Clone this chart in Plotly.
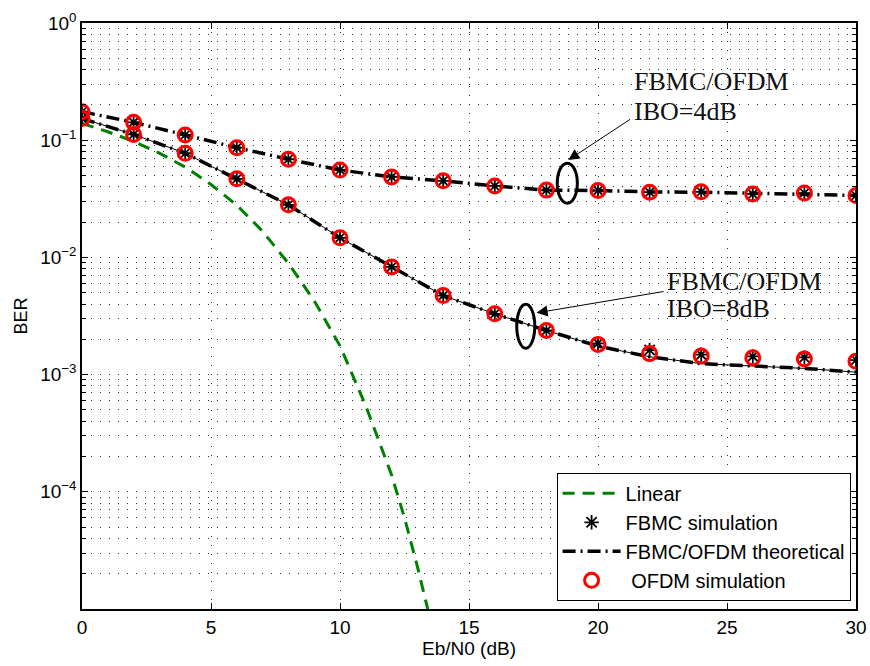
import plotly.graph_objects as go

# ---- data ----
snr = [0, 2, 4, 6, 8, 10, 12, 14, 16, 18, 20, 22, 24, 26, 28, 30]

linear_x = [0, 1, 2, 3, 4, 5, 6, 7, 8, 9, 10, 11, 12, 12.5, 13, 13.4]
linear_ber = [0.139, 0.118, 0.0977, 0.0776, 0.059, 0.0419, 0.0279, 0.0167,
              0.0089, 0.00427, 0.00176, 5.4e-4, 1.39e-4, 6.0e-5, 2.3e-5, 1.0e-5]

ibo4_theory = [0.175, 0.142, 0.111, 0.0863, 0.0688, 0.0557, 0.0486, 0.045,
               0.0407, 0.0375, 0.0372, 0.0362, 0.036, 0.0352, 0.035, 0.0338]
ibo4_ofdm = [0.175, 0.142, 0.111, 0.0863, 0.0688, 0.0557, 0.0486, 0.045,
             0.0407, 0.0375, 0.0372, 0.036, 0.0363, 0.0348, 0.0354, 0.0337]
ibo4_fbmc = [0.175, 0.142, 0.111, 0.0863, 0.0688, 0.0557, 0.0486, 0.045,
             0.0407, 0.0375, 0.0372, 0.036, 0.0363, 0.0348, 0.0354, 0.0337]

ibo8_theory = [0.153, 0.112, 0.0774, 0.0468, 0.0281, 0.0147, 0.0083, 0.00472,
               0.0033, 0.00238, 0.00175, 0.00142, 0.00124, 0.00118, 0.00113, 0.00105]
ibo8_ofdm = [0.153, 0.112, 0.0774, 0.0468, 0.0281, 0.0147, 0.0083, 0.00472,
             0.0033, 0.00238, 0.00181, 0.00151, 0.00144, 0.00139, 0.00136, 0.0013]
ibo8_fbmc = [0.153, 0.112, 0.0774, 0.0468, 0.0281, 0.0147, 0.0083, 0.00472,
             0.0033, 0.00238, 0.00185, 0.00162, 0.00148, 0.00143, 0.0014, 0.00133]

x_ticks = [0, 5, 10, 15, 20, 25, 30]
y_ticks = [1e-4, 1e-3, 1e-2, 1e-1, 1]
y_ticktext = ["10<sup>\u22124</sup>", "10<sup>\u22123</sup>", "10<sup>\u22122</sup>",
              "10<sup>\u22121</sup>", "10<sup>0</sup>"]

GREEN = "#008000"
RED = "#ff0000"
DASHDOT = "13px,5px,2px,5px"

fig = go.Figure()

fig.add_trace(go.Scatter(x=linear_x, y=linear_ber, mode="lines", name="Linear",
                         line=dict(color=GREEN, width=3, dash="12px,8px")))

# thin solid line along the IBO=8dB curve
fig.add_trace(go.Scatter(x=snr, y=ibo8_theory, mode="lines", showlegend=False,
                         line=dict(color="black", width=1)))

star = dict(symbol="asterisk-open", size=12, color="black",
            line=dict(color="black", width=1.8))
fig.add_trace(go.Scatter(x=snr, y=ibo4_fbmc, mode="markers", name="FBMC simulation",
                         legendgroup="fbmc", marker=star))
fig.add_trace(go.Scatter(x=snr, y=ibo8_fbmc, mode="markers", showlegend=False,
                         legendgroup="fbmc", marker=star))

fig.add_trace(go.Scatter(x=snr, y=ibo4_theory, mode="lines", name="FBMC/OFDM theoretical",
                         legendgroup="th",
                         line=dict(color="black", width=3.5, dash=DASHDOT)))
fig.add_trace(go.Scatter(x=snr, y=ibo8_theory, mode="lines", showlegend=False,
                         legendgroup="th",
                         line=dict(color="black", width=3.5, dash=DASHDOT)))

circ = dict(symbol="circle-open", size=14, color=RED, line=dict(color=RED, width=3))
fig.add_trace(go.Scatter(x=snr, y=ibo4_ofdm, mode="markers", name="\u00a0OFDM simulation",
                         legendgroup="ofdm", marker=circ))
fig.add_trace(go.Scatter(x=snr, y=ibo8_ofdm, mode="markers", showlegend=False,
                         legendgroup="ofdm", marker=circ))

# ellipses (data coordinates)
fig.add_shape(type="circle", xref="x", yref="y", x0=18.42, x1=19.2, y0=0.029, y1=0.0637,
              line=dict(color="black", width=3))
fig.add_shape(type="circle", xref="x", yref="y", x0=16.85, x1=17.55, y0=0.00168, y1=0.00398,
              line=dict(color="black", width=3))

# arrows (annotation coordinates on log axis are log10)
fig.add_annotation(x=18.85, y=-1.169, ax=21.3, ay=-0.814, axref="x", ayref="y",
                   xref="x", yref="y", text="", showarrow=True, arrowhead=2,
                   arrowsize=2.2, arrowwidth=1, arrowcolor="black")
fig.add_annotation(x=17.62, y=-2.473, ax=22.6, ay=-2.289, axref="x", ayref="y",
                   xref="x", yref="y", text="", showarrow=True, arrowhead=2,
                   arrowsize=2.2, arrowwidth=1, arrowcolor="black")

serif = dict(family="Liberation Serif, Times New Roman, serif", size=26, color="#111")
labels = [(21.3, -0.502, "FBMC/OFDM"), (21.3, -0.757, "IBO=4dB"),
          (22.6, -2.204, "FBMC/OFDM"), (22.6, -2.439, "IBO=8dB")]
for lx, ly, lt in labels:
    fig.add_annotation(x=lx, y=ly, xref="x", yref="y", text=lt, showarrow=False,
                       xanchor="left", yanchor="middle", align="left", font=serif)

grid_dash = "1px,8px"
fig.update_layout(
    width=870, height=666,
    margin=dict(l=82, r=14, t=23, b=57, autoexpand=False),
    paper_bgcolor="white", plot_bgcolor="white",
    font=dict(family="Liberation Sans, Arial, sans-serif", size=19, color="black"),
    legend=dict(x=0.993, y=0.014, xanchor="right", yanchor="bottom",
                bgcolor="white", bordercolor="black", borderwidth=1,
                font=dict(size=20), itemwidth=58, tracegroupgap=0),
    xaxis=dict(range=[0, 30], tickvals=x_ticks, showline=True, linecolor="black",
               linewidth=1.5, mirror="ticks", ticks="inside", ticklen=6,
               tickcolor="black", showgrid=True, gridcolor="#333", gridwidth=1,
               griddash=grid_dash, zeroline=False, tickfont=dict(size=19),
               automargin=False,
               title=dict(text="Eb/N0 (dB)", font=dict(size=19), standoff=4)),
    yaxis=dict(type="log", range=[-5, 0], tickvals=y_ticks, ticktext=y_ticktext,
               showline=True, linecolor="black", linewidth=1.5, mirror="ticks",
               ticks="inside", ticklen=6, tickcolor="black", showgrid=True,
               gridcolor="#333", gridwidth=1, griddash=grid_dash, zeroline=False,
               tickfont=dict(size=19), automargin=False,
               minor=dict(tickmode="array",
                          tickvals=[k * 10.0 ** e for e in range(-5, 0) for k in range(2, 10)],
                          ticks="inside", ticklen=4, tickcolor="black", showgrid=True,
                          gridcolor="#333", gridwidth=1, griddash=grid_dash),
               title=dict(text="BER", font=dict(size=18), standoff=8)),
)

fig.write_html("out.html")
